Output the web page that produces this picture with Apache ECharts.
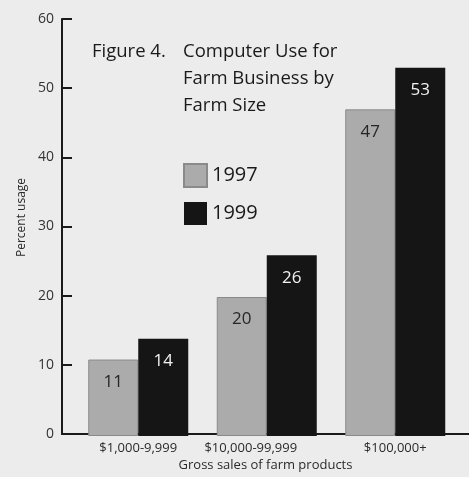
<!DOCTYPE html>
<html>
<head>
<meta charset="utf-8">
<script src="https://cdn.jsdelivr.net/npm/echarts@6/dist/echarts.min.js"></script>
<style>
  html, body { margin: 0; padding: 0; background: #ececec; }
  #chart { width: 469px; height: 477px; }
</style>
</head>
<body>
<div id="chart"></div>
<script>
// Farm computer use by size of operation
const categories = ['$1,000-9,999', '$10,000-99,999', '$100,000+'];
const seriesNames = ['1997', '1999'];
const usage1997 = [11, 20, 47];
const usage1999 = [14, 26, 53];
const yTicks = [0, 10, 20, 30, 40, 50, 60];

const FONT = '"Open Sans", sans-serif';
const INK = '#1a1a1a';

const chart = echarts.init(document.getElementById('chart'));

// the middle label sits a little left of its bar pair
const xCategoryData = categories.map((c, i) =>
  i === 1 ? { value: c, textStyle: { padding: [0, 32, 0, 0] } } : c
);

const valueLabel = (color) => ({
  show: true,
  position: 'insideTop',
  distance: 14,
  fontFamily: FONT,
  fontSize: 17,
  color: color
});

chart.setOption({
  backgroundColor: '#ececec',
  animation: false,
  title: [
    {
      text: 'Figure 4.',
      left: 87, top: 33,
      textStyle: { fontFamily: FONT, fontSize: 18.5, fontWeight: 'normal', color: INK, lineHeight: 27 }
    },
    {
      text: 'Computer Use for\nFarm Business by\nFarm Size',
      left: 178, top: 33,
      textStyle: { fontFamily: FONT, fontSize: 18.5, fontWeight: 'normal', color: INK, lineHeight: 27 }
    }
  ],
  legend: {
    data: seriesNames,
    orient: 'vertical',
    left: 178, top: 158,
    itemWidth: 23, itemHeight: 23, itemGap: 14,
    icon: 'rect',
    textStyle: { fontFamily: FONT, fontSize: 20, color: INK }
  },
  grid: [
    // frame grid: carries the visible axes
    { left: 62, right: 0, top: 19, bottom: 41 },
    // bar grid: inset from the y axis line
    { left: 74, right: 9.5, top: 19, bottom: 41 }
  ],
  xAxis: [
    {
      gridIndex: 0, type: 'value', min: 0, max: 1,
      axisLine: { show: true, onZero: false, lineStyle: { color: INK, width: 2 } },
      axisTick: { show: false }, axisLabel: { show: false }, splitLine: { show: false },
      name: 'Gross sales of farm products',
      nameLocation: 'middle', nameGap: 25,
      nameTextStyle: { fontFamily: FONT, fontSize: 13, color: '#2a2a2a' }
    },
    {
      gridIndex: 1, type: 'category', data: xCategoryData,
      axisLine: { show: false }, axisTick: { show: false },
      axisLabel: { fontFamily: FONT, fontSize: 13, color: '#2a2a2a', margin: 6 }
    }
  ],
  yAxis: [
    {
      gridIndex: 0, type: 'value', min: yTicks[0], max: yTicks[yTicks.length - 1], interval: 10,
      axisLine: { show: true, lineStyle: { color: INK, width: 2 } },
      axisTick: { show: true, inside: true, length: 10, lineStyle: { color: INK, width: 2 } },
      axisLabel: { fontFamily: FONT, fontSize: 14, color: '#333', margin: 8 },
      splitLine: { show: false },
      name: 'Percent usage', nameLocation: 'middle', nameGap: 34,
      nameTextStyle: { fontFamily: FONT, fontSize: 12, color: '#2a2a2a', padding: [0, 0, 0, 18] }
    },
    {
      gridIndex: 1, type: 'value', min: yTicks[0], max: yTicks[yTicks.length - 1], interval: 10,
      show: false
    }
  ],
  series: [
    {
      name: seriesNames[0], type: 'bar', xAxisIndex: 1, yAxisIndex: 1,
      data: usage1997, barWidth: 50, barGap: '0%',
      itemStyle: { color: '#ababab', borderColor: '#8a8a8a', borderWidth: 1 },
      label: valueLabel('#262626')
    },
    {
      name: seriesNames[1], type: 'bar', xAxisIndex: 1, yAxisIndex: 1,
      data: usage1999, barWidth: 50, barGap: '0%',
      itemStyle: { color: '#151515' },
      label: valueLabel('#f2f2f2')
    }
  ]
});
</script>
</body>
</html>
